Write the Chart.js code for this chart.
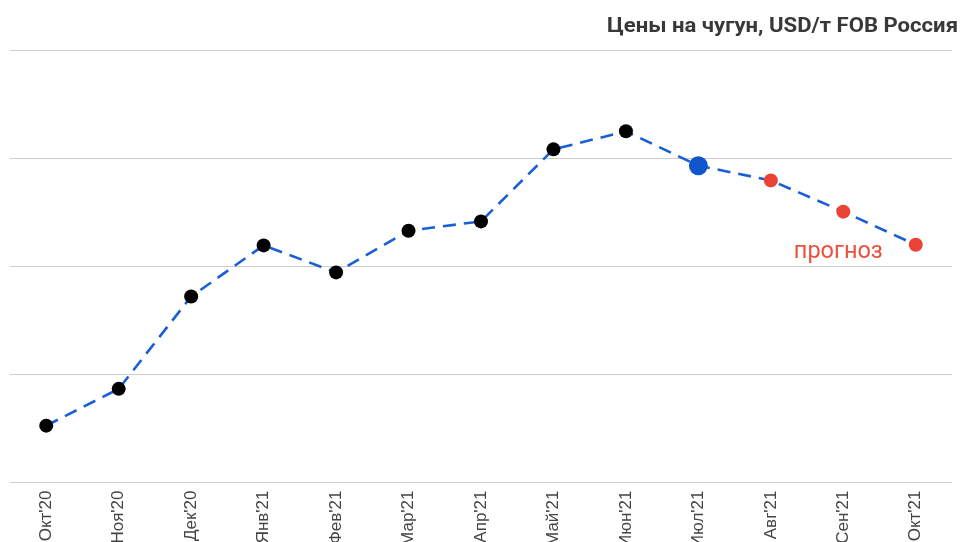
<!DOCTYPE html>
<html>
<head>
<meta charset="utf-8">
<script src="https://cdn.jsdelivr.net/npm/chart.js@4"></script>
<style>
  html, body { margin: 0; padding: 0; background: #fff; overflow: hidden; }
  #wrap { width: 962px; height: 600px; position: relative; }
</style>
</head>
<body>
<div id="wrap"><canvas id="c"></canvas></div>
<script>
const titleText = "Цены на чугун, USD/т FOB Россия";
const forecastLabel = "прогноз";
const categories = ["Окт'20", "Ноя'20", "Дек'20", "Янв'21", "Фев'21", "Мар'21", "Апр'21", "Май'21", "Июн'21", "Июл'21", "Авг'21", "Сен'21", "Окт'21"];
const prices = [352.6, 386.6, 472, 519.3, 494.3, 532.9, 541.5, 608.1, 624.8, 593, 579.4, 550.5, 519.9];
const pointKinds = ["fact", "fact", "fact", "fact", "fact", "fact", "fact", "fact", "fact", "current", "forecast", "forecast", "forecast"];
const yTicks = [300, 400, 500, 600, 700];

const kindColor = { fact: "#000000", current: "#1155cc", forecast: "#ea4335" };
const kindRadius = { fact: 7, current: 9.5, forecast: 7 };

const overlay = {
  id: "overlay",
  afterDraw(chart) {
    const ctx = chart.ctx;
    ctx.save();
    ctx.fillStyle = "#383838";
    ctx.font = "bold 20px Roboto";
    ctx.textAlign = "right";
    ctx.textBaseline = "alphabetic";
    const w = ctx.measureText(titleText).width;
    const sx = 351 / w;
    ctx.translate(chart.width - 4, 32);
    ctx.scale(sx, 1);
    ctx.fillText(titleText, 0, 0);
    ctx.restore();

    ctx.save();
    const xs = chart.scales.x, ys = chart.scales.y;
    const idx = categories.length - 2;
    ctx.fillStyle = "#ec4f3c";
    ctx.font = "23.5px Roboto";
    ctx.textAlign = "center";
    ctx.textBaseline = "alphabetic";
    ctx.fillText(forecastLabel, xs.getPixelForValue(idx) - 5, ys.getPixelForValue(prices[idx]) + 46);
    ctx.restore();
  }
};

new Chart(document.getElementById("c"), {
  type: "line",
  data: {
    labels: categories,
    datasets: [{
      data: prices,
      borderColor: "#1a5fd4",
      borderWidth: 2.6,
      borderDash: [13, 8],
      fill: false,
      tension: 0,
      pointRadius: pointKinds.map(k => kindRadius[k]),
      pointHoverRadius: pointKinds.map(k => kindRadius[k]),
      pointBackgroundColor: pointKinds.map(k => kindColor[k]),
      pointBorderColor: pointKinds.map(k => kindColor[k]),
      pointBorderWidth: 0
    }]
  },
  options: {
    responsive: true,
    maintainAspectRatio: false,
    animation: false,
    layout: { padding: { left: 10, right: 10, top: 50, bottom: 0 } },
    plugins: { legend: { display: false }, tooltip: { enabled: false }, title: { display: false } },
    scales: {
      x: {
        offset: true,
        grid: { display: false, drawTicks: false },
        border: { display: false },
        ticks: {
          autoSkip: false,
          minRotation: 90,
          maxRotation: 90,
          padding: 8,
          color: "#444",
          font: { family: "Liberation Sans, Arial", size: 17 }
        },
        afterFit(scale) { scale.height = 117.5; }
      },
      y: {
        min: yTicks[0],
        max: yTicks[yTicks.length - 1],
        afterBuildTicks(scale) { scale.ticks = yTicks.map(v => ({ value: v })); },
        grid: { color: "#cccccc", lineWidth: 1, drawTicks: false },
        border: { display: false },
        ticks: { display: false },
        afterFit(scale) { scale.width = 0; }
      }
    }
  },
  plugins: [overlay]
});
</script>
</body>
</html>
